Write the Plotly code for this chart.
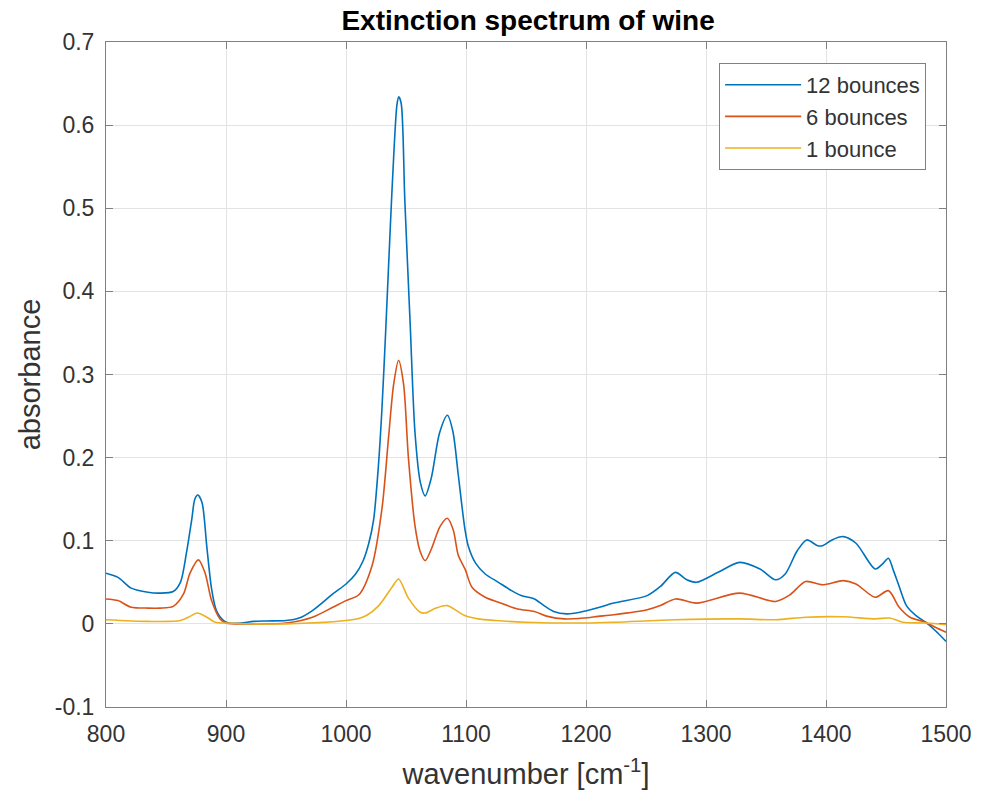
import plotly.graph_objects as go

# ---- data ----
wn_12 = [800, 810, 821, 835, 845, 856, 862, 867, 871.5, 874, 876.5, 880, 884, 888, 892, 898, 903,
         912, 923, 934, 950, 961, 972, 989, 1000, 1008, 1014, 1019, 1023, 1027, 1030, 1033, 1037,
         1040, 1042.5, 1044, 1046, 1049, 1053.5, 1057.5, 1062, 1066, 1071, 1078, 1084.5, 1089,
         1093.5, 1099, 1102, 1108, 1116, 1127, 1138, 1146, 1157, 1165, 1173, 1184, 1195, 1209,
         1223, 1251, 1262, 1274.5, 1284, 1292, 1310, 1328, 1345, 1358, 1366, 1376, 1384, 1393,
         1397, 1405, 1414.5, 1425, 1441, 1447, 1452, 1456, 1461, 1467, 1475, 1483, 1491, 1500]
abs_12 = [0.061, 0.056, 0.043, 0.038, 0.037, 0.039, 0.050, 0.085, 0.126, 0.150, 0.155, 0.146,
          0.093, 0.042, 0.016, 0.004, 0.001, 0.001, 0.003, 0.0035, 0.004, 0.007, 0.016, 0.036,
          0.048, 0.060, 0.075, 0.097, 0.125, 0.19, 0.26, 0.35, 0.48, 0.57, 0.625, 0.634, 0.626,
          0.51, 0.36, 0.23, 0.17, 0.154, 0.175, 0.23, 0.251, 0.232, 0.18, 0.115, 0.093, 0.073,
          0.060, 0.050, 0.040, 0.034, 0.030, 0.022, 0.015, 0.012, 0.014, 0.019, 0.025, 0.034,
          0.045, 0.062, 0.053, 0.050, 0.062, 0.074, 0.066, 0.053, 0.060, 0.088, 0.101, 0.094,
          0.094, 0.101, 0.105, 0.097, 0.066, 0.072, 0.079, 0.065, 0.045, 0.022, 0.010, 0.002,
          -0.008, -0.021]

wn_6 = [800, 810, 821, 835, 845, 856, 864.6, 870, 877, 882.6, 888, 895, 900, 920, 950, 972, 989,
        1000, 1010.7, 1021.7, 1030, 1035.5, 1039.7, 1043.8, 1048, 1052, 1057.6, 1061.8, 1066,
        1071.4, 1078.3, 1084.4, 1089.4, 1093.5, 1099.5, 1105, 1116, 1127, 1143, 1157, 1168, 1182,
        1198, 1210, 1223, 1251, 1262, 1274.5, 1292, 1328, 1358, 1370, 1383, 1397, 1414.5, 1425,
        1441, 1452, 1461, 1470, 1483, 1491, 1500]
abs_6 = [0.030, 0.028, 0.020, 0.019, 0.019, 0.021, 0.036, 0.061, 0.077, 0.061, 0.028, 0.006,
         0.001, 0.0, 0.001, 0.008, 0.020, 0.028, 0.035, 0.070, 0.139, 0.225, 0.288, 0.317, 0.288,
         0.20, 0.117, 0.087, 0.076, 0.091, 0.117, 0.127, 0.113, 0.083, 0.065, 0.044, 0.032, 0.026,
         0.018, 0.015, 0.009, 0.006, 0.007, 0.009, 0.011, 0.017, 0.022, 0.030, 0.025, 0.037,
         0.027, 0.035, 0.051, 0.047, 0.052, 0.048, 0.032, 0.040, 0.020, 0.008, 0.002, -0.004,
         -0.010]

wn_1 = [800, 835, 862, 870, 876, 884, 891, 900, 950, 1000, 1010.7, 1017, 1027.3, 1038.3, 1043.8,
        1052, 1061.8, 1066, 1075, 1084.4, 1093, 1099, 1110, 1125, 1150, 1200, 1225, 1274, 1328,
        1358, 1383, 1414, 1441, 1453, 1464, 1483, 1500]
abs_1 = [0.005, 0.003, 0.004, 0.009, 0.013, 0.008, 0.002, 0.001, 0.0, 0.004, 0.0065, 0.010,
         0.022, 0.044, 0.054, 0.031, 0.014, 0.013, 0.019, 0.022, 0.015, 0.010, 0.006, 0.004,
         0.002, 0.001, 0.002, 0.005, 0.006, 0.005, 0.008, 0.0085, 0.006, 0.007, 0.002, 0.001,
         -0.001]

series_names = ["12 bounces", "6 bounces", "1 bounce"]
series_colors = ["#0072BD", "#D95319", "#EDB120"]
x_ticks = [800, 900, 1000, 1100, 1200, 1300, 1400, 1500]
y_ticks = [-0.1, 0, 0.1, 0.2, 0.3, 0.4, 0.5, 0.6, 0.7]
y_tick_text = ["-0.1", "0", "0.1", "0.2", "0.3", "0.4", "0.5", "0.6", "0.7"]

fig = go.Figure()
for xs, ys, name, col in zip([wn_12, wn_6, wn_1], [abs_12, abs_6, abs_1], series_names, series_colors):
    fig.add_trace(go.Scatter(x=xs, y=ys, mode="lines", name=name,
                             line=dict(color=col, width=1.6, shape="spline", smoothing=0.8)))

FONT = "Liberation Sans, Arial, sans-serif"
axis_common = dict(showline=True, linecolor="#808080", linewidth=1, mirror="allticks",
                   ticks="inside", ticklen=7, tickcolor="#808080", tickwidth=1,
                   showgrid=True, gridcolor="#e3e3e3", gridwidth=1, zeroline=False,
                   tickfont=dict(family=FONT, size=23, color="#333333"))

fig.update_layout(
    width=984, height=801,
    margin=dict(l=106, r=34, t=42, b=94),
    paper_bgcolor="white", plot_bgcolor="white",
    title=dict(text="<b>Extinction spectrum of wine</b>", x=0.5367, xanchor="center",
               y=0.975, yanchor="middle", font=dict(family=FONT, size=28, color="#000000")),
    xaxis=dict(range=[800, 1500], tickvals=x_ticks, ticktext=[str(v) for v in x_ticks],
               title=dict(text="wavenumber [cm<sup>-1</sup>]", standoff=18,
                          font=dict(family=FONT, size=29, color="#333333")),
               ticklabelstandoff=6, **axis_common),
    yaxis=dict(range=[-0.1, 0.7], tickvals=y_ticks, ticktext=y_tick_text,
               title=dict(text="absorbance", standoff=5,
                          font=dict(family=FONT, size=29, color="#333333")),
               ticklabelstandoff=6, **axis_common),
    legend=dict(x=0.9763, y=0.9684, xanchor="right", yanchor="top",
                bgcolor="white", bordercolor="#808080", borderwidth=1,
                font=dict(family=FONT, size=22, color="#333333"), itemwidth=76,
                tracegroupgap=0),
    showlegend=True,
)

fig.write_html("out.html")
